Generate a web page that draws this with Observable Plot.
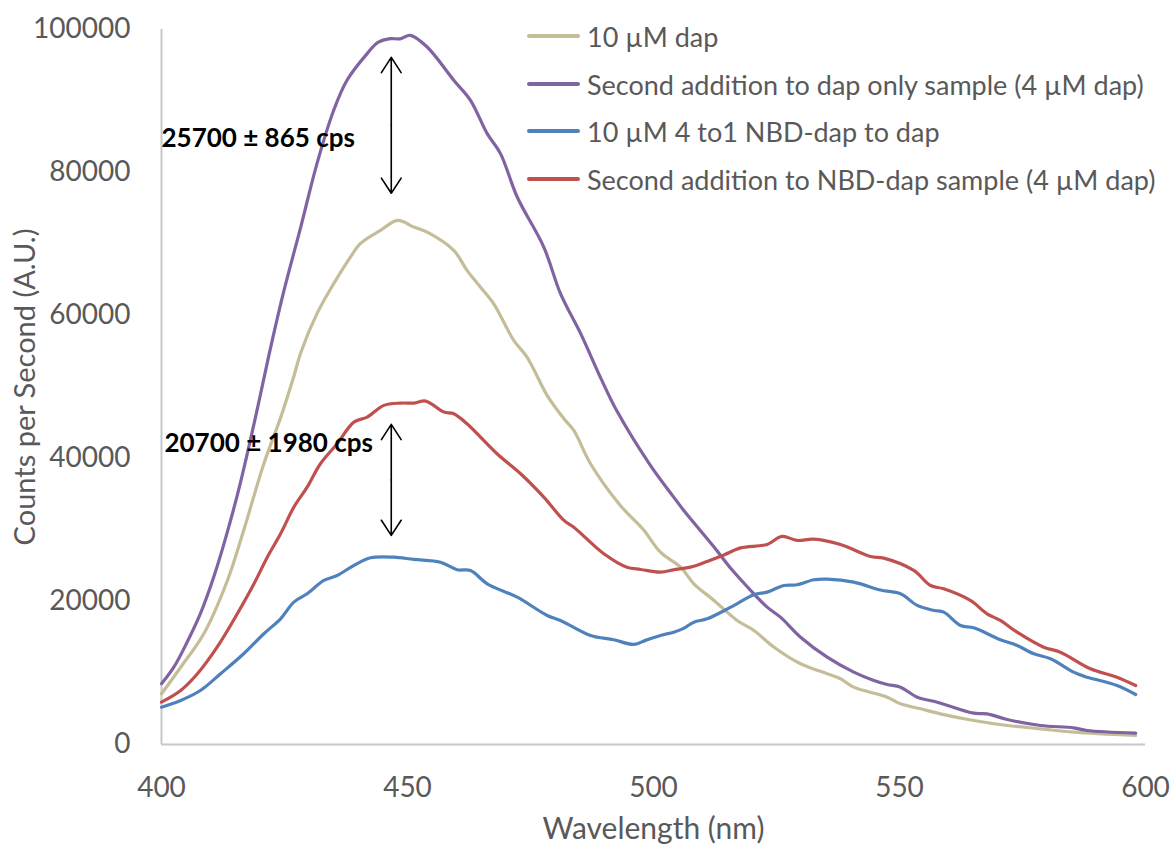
<!DOCTYPE html>
<html>
<head>
<meta charset="utf-8">
<script src="https://cdn.jsdelivr.net/npm/d3@7"></script>
<script src="https://cdn.jsdelivr.net/npm/@observablehq/plot@0.6"></script>
<style>
  body { margin: 0; background: #fff; }
  #wrap { position: relative; width: 1174px; height: 848px; overflow: hidden; }
  #legend { position: absolute; left: 527px; top: 0; font-family: Lato, sans-serif; font-size: 27px; color: #595959; }
  .row { position: absolute; left: 0; height: 32px; display: flex; align-items: center; white-space: nowrap; }
  .sw { width: 53px; height: 4px; border-radius: 2px; margin-right: 7px; }
</style>
</head>
<body>
<div id="wrap"></div>
<script>
// ---- Data ----
const seriesNames = [
  "10 µM dap",
  "Second addition to dap only sample (4 µM dap)",
  "10 µM 4 to1 NBD-dap to dap",
  "Second addition to NBD-dap sample (4 µM dap)"
];
const seriesColors = ["#C4BD97", "#8064A2", "#4F81BD", "#C0504D"];

const xTitle = "Wavelength (nm)";
const yTitle = "Counts per Second (A.U.)";

const wlDap = [400, 403.9, 408.6, 413.4, 416.7, 420.8, 424.2, 426.9, 428.3, 431.6, 435, 438.4, 440.4, 444.5, 448, 451.3, 454, 459.4, 462.1, 464.8, 467.5, 471.6, 474.3, 478.4, 481.8, 483.8, 487.2, 493.3, 498, 501.4, 505.5, 508.2, 512.3, 517, 520.4, 524.5, 529.9, 535.3, 538, 540.7, 547.5, 550.2, 554.3, 558.3, 565.1, 571.9, 578.7, 585.4, 598];
const cpsDap = [7090, 10810, 15490, 22940, 29940, 39270, 45700, 51500, 54800, 60260, 64450, 68170, 70050, 71900, 73300, 72370, 71670, 69110, 66310, 63980, 61650, 56520, 54180, 48800, 45560, 43930, 39270, 33400, 30000, 26900, 24800, 22480, 20150, 17350, 15950, 13610, 11290, 9890, 9190, 8020, 6620, 5690, 4990, 4290, 3360, 2660, 2190, 1720, 1260];

const wlDap2 = [400, 402.5, 405.2, 407.9, 410.6, 413, 416, 419.5, 422.2, 424.9, 428.3, 431.6, 435, 437.7, 441.8, 444, 446.5, 448.5, 450.6, 454, 459.4, 462.8, 466.2, 468.9, 472.3, 477.7, 481.1, 485.2, 489.5, 492.6, 499.4, 504.1, 506.2, 512.3, 516, 520.4, 523.1, 525.8, 529.9, 535.3, 540.7, 544.8, 547.5, 550.2, 553.6, 557.7, 565.1, 567.8, 571.9, 578.7, 585.4, 588.1, 598];
const cpsDap2 = [8490, 10810, 14300, 18300, 23400, 28800, 36500, 47000, 55580, 63500, 72370, 81240, 88700, 92900, 96630, 98200, 98720, 98700, 99190, 97550, 92900, 90100, 85430, 82640, 76570, 69570, 63050, 57460, 50920, 46600, 39000, 34600, 32700, 27620, 24400, 21080, 19210, 17810, 15010, 12210, 10120, 8950, 8390, 8020, 6620, 5920, 4380, 4290, 3500, 2660, 2330, 1960, 1590];

const wlNbd = [400, 403.9, 407.9, 412, 416.7, 420.8, 424.2, 426.9, 429.6, 433, 435.7, 439.1, 442.5, 447.2, 451.3, 456.7, 460.1, 462.8, 466.2, 472.3, 478.4, 481.1, 487.2, 491.9, 496, 498.5, 501.4, 504.1, 506, 508.2, 510.9, 515.7, 520.4, 523.1, 526.5, 529.2, 532.6, 535.3, 540.7, 546.1, 550.2, 553.6, 557, 559, 562.4, 565.1, 570.5, 573.9, 577.3, 580.7, 585.4, 587.5, 594.2, 598];
const cpsNbd = [5220, 6160, 7550, 9890, 12690, 15490, 17580, 19910, 21080, 22940, 23640, 25040, 26110, 26200, 25880, 25500, 24440, 24340, 22480, 20610, 18050, 17350, 15250, 14650, 14000, 14600, 15250, 15710, 16200, 17110, 17580, 19210, 20950, 21310, 22240, 22340, 23040, 23130, 22710, 21600, 21080, 19450, 18750, 18510, 16650, 16320, 14650, 13850, 12690, 11990, 10120, 9560, 8250, 6990];

const wlNbd2 = [400, 403.9, 407.3, 411.3, 415.4, 418.8, 421.5, 424.2, 426.9, 429.6, 432.3, 435.7, 439.1, 441.8, 445.2, 448.6, 451.3, 453.7, 457.4, 459.4, 462.1, 468.2, 473, 477.7, 481.8, 483.8, 489.9, 494.6, 497.4, 501.4, 504.5, 507.5, 510.9, 514.3, 517.7, 523.1, 526.1, 529.2, 532.6, 538, 544.1, 546.8, 552.9, 556.3, 559, 564.4, 567.8, 570.5, 573.9, 579.3, 582.7, 588.8, 594.2, 598];
const cpsNbd2 = [5920, 7550, 9890, 13610, 18280, 22480, 26200, 29480, 33200, 35990, 39270, 42070, 45090, 45790, 47430, 47750, 47750, 48030, 46490, 46270, 44860, 40670, 37870, 34600, 31340, 30400, 26680, 24800, 24480, 24100, 24500, 24800, 25600, 26500, 27500, 27980, 29100, 28540, 28730, 27980, 26300, 26060, 24340, 22240, 21780, 20150, 18280, 17350, 15710, 13610, 12910, 10590, 9420, 8250];

const xTicks = [400, 450, 500, 550, 600];
const yTicks = [0, 20000, 40000, 60000, 80000, 100000];

// annotations (difference arrows)
const annText = ["25700 ± 865 cps", "20700 ± 1980 cps"];
const annTextX = [400, 400.6];
const annTextY = [84800, 42100];
const arrowX = [446.7, 446.7];
const arrowTop = [96100, 44770];
const arrowBottom = [77090, 29240];

// ---- Build tables ----
const wls = [wlDap, wlDap2, wlNbd, wlNbd2];
const vals = [cpsDap, cpsDap2, cpsNbd, cpsNbd2];
const table = [];
seriesNames.forEach((name, i) => {
  wls[i].forEach((w, j) => table.push({series: name, wl: w, v: vals[i][j]}));
});
const arrows = [];
annText.forEach((t, i) => {
  const mid = (arrowTop[i] + arrowBottom[i]) / 2;
  arrows.push({x: arrowX[i], y1: mid, y2: arrowTop[i]});
  arrows.push({x: arrowX[i], y1: mid, y2: arrowBottom[i]});
});
const labels = annText.map((t, i) => ({text: t, x: annTextX[i], y: annTextY[i]}));

const chart = Plot.plot({
  width: 1174,
  height: 848,
  marginLeft: 161,
  marginRight: 29,
  marginTop: 29,
  marginBottom: 104,
  style: {fontFamily: "Lato, sans-serif", fontSize: "28px", color: "#595959", background: "white"},
  x: {domain: [400, 600]},
  y: {domain: [0, 100000]},
  color: {domain: seriesNames, range: seriesColors},
  marks: [
    Plot.axisY({ticks: yTicks, tickSize: 0, tickPadding: 31, tickFormat: d => String(d), label: null}),
    Plot.axisX({ticks: xTicks, tickSize: 0, tickPadding: 33, tickFormat: d => String(d), label: null}),
    Plot.text([yTitle], {frameAnchor: "left", textAnchor: "middle", rotate: -90, dx: -136, fontSize: 29, fill: "#595959"}),
    Plot.text([xTitle], {frameAnchor: "bottom", textAnchor: "middle", dy: 94, fontSize: 30, fill: "#595959"}),
    Plot.ruleX([400], {stroke: "#C8C8C8", strokeWidth: 2}),
    Plot.ruleY([0], {stroke: "#C8C8C8", strokeWidth: 2}),
    Plot.line(table, {x: "wl", y: "v", z: "series", stroke: "series", strokeWidth: 3.2, curve: "catmull-rom"}),
    Plot.arrow(arrows, {x1: "x", x2: "x", y1: "y1", y2: "y2", stroke: "black", strokeWidth: 1.6, headLength: 17, headAngle: 66}),
    Plot.text(labels, {x: "x", y: "y", text: "text", textAnchor: "start", fontWeight: "bold", fontSize: 26, fill: "black"})
  ]
});
const wrap = document.getElementById("wrap");
wrap.appendChild(chart);

// legend overlay
const legend = document.createElement("div");
legend.id = "legend";
const rowCenters = [36, 84, 131, 179];
seriesNames.forEach((name, i) => {
  const row = document.createElement("div");
  row.className = "row";
  row.style.top = (rowCenters[i] - 16) + "px";
  const sw = document.createElement("span");
  sw.className = "sw";
  sw.style.background = seriesColors[i];
  const tx = document.createElement("span");
  tx.textContent = name;
  row.appendChild(sw);
  row.appendChild(tx);
  legend.appendChild(row);
});
wrap.appendChild(legend);
</script>
</body>
</html>
